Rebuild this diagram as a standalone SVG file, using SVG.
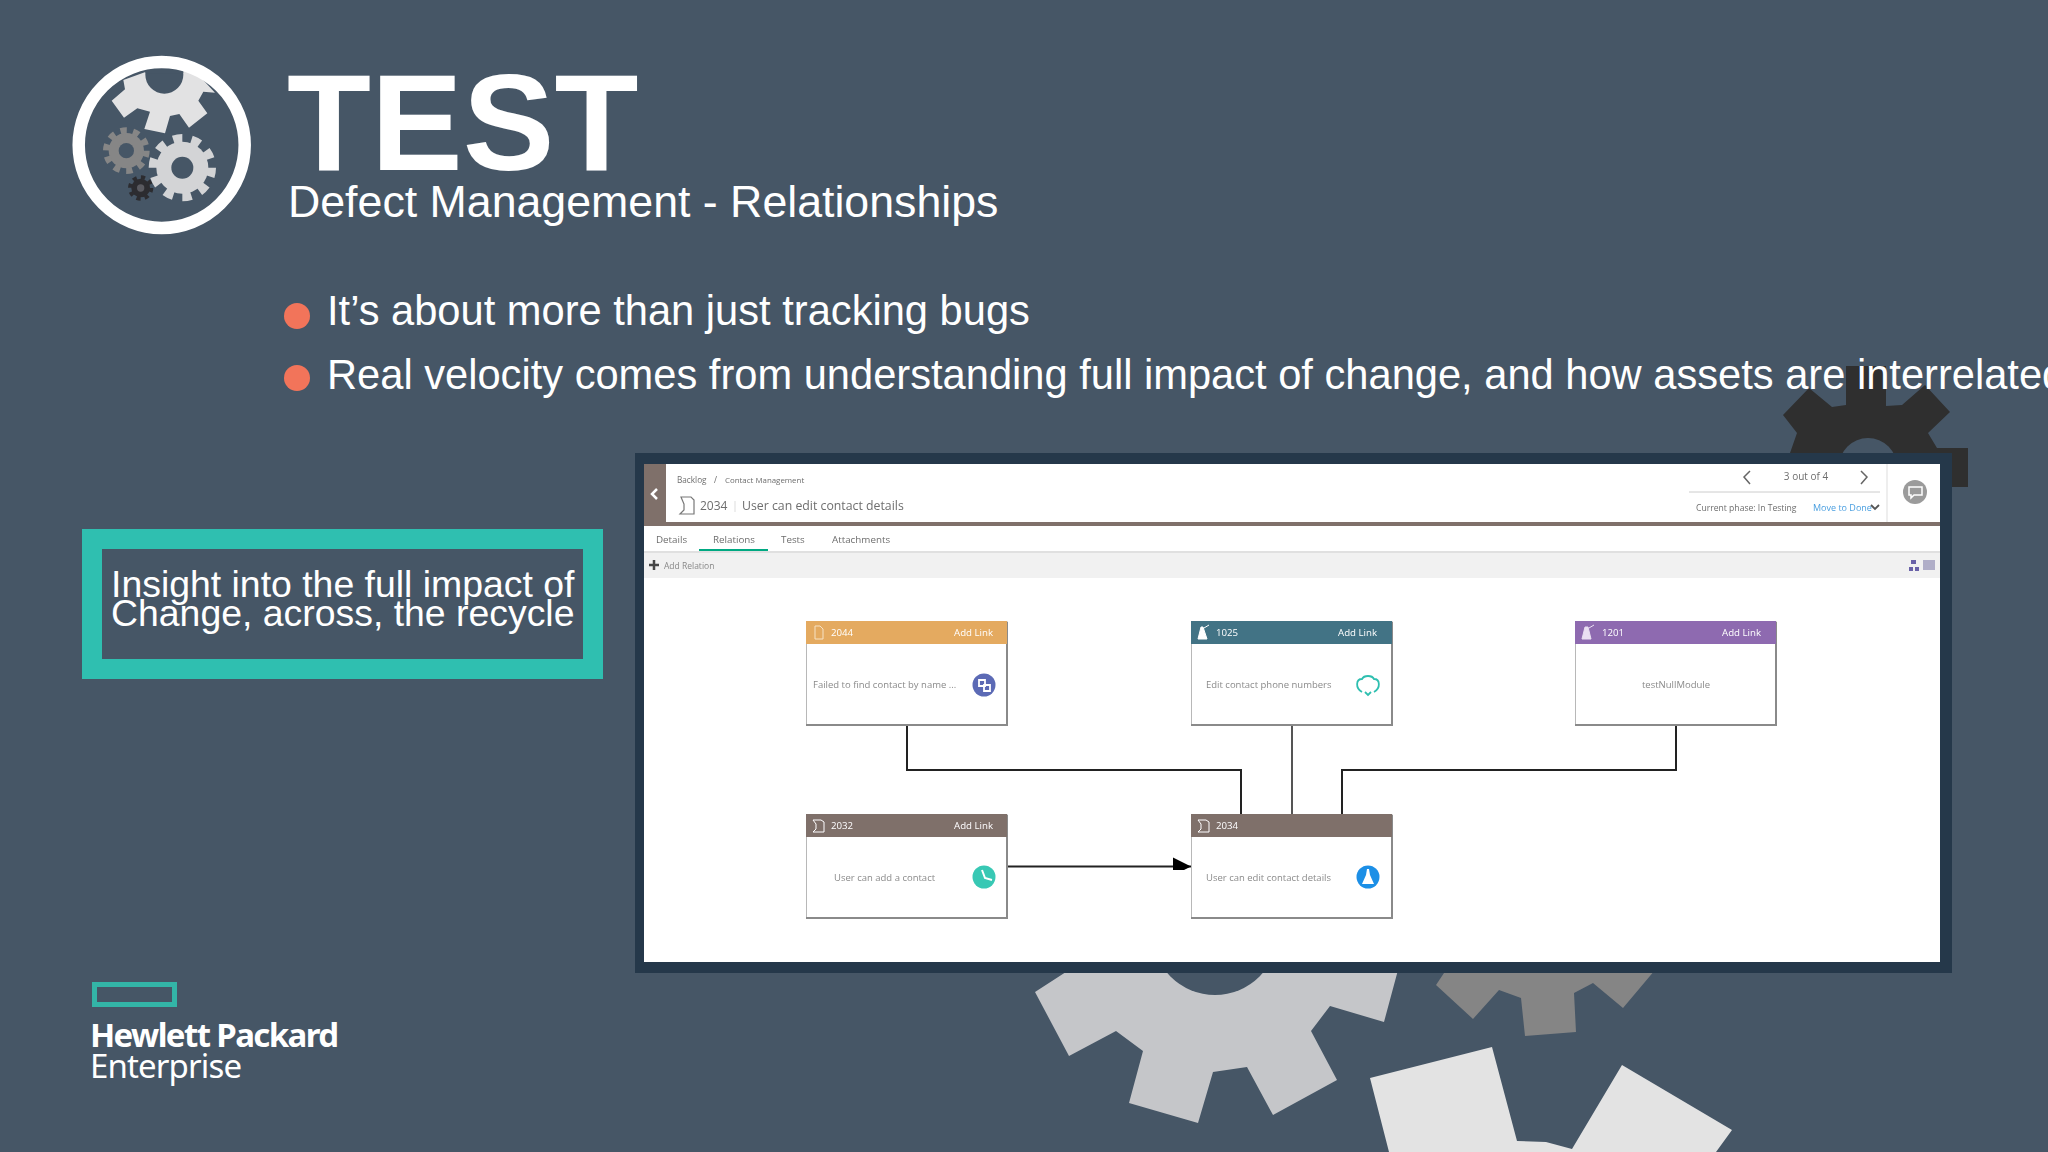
<svg xmlns="http://www.w3.org/2000/svg" width="2048" height="1152" viewBox="0 0 2048 1152">
<defs>
<filter id="soft" x="-2%" y="-2%" width="104%" height="104%"><feGaussianBlur stdDeviation="0.45"/></filter>
<marker id="arrow" markerUnits="userSpaceOnUse" markerWidth="18" markerHeight="20" refX="18" refY="10" orient="auto" overflow="visible"><path d="M0 1L18 10L0 19Z" fill="#000"/></marker>
</defs>
<style>
text{font-family:"Liberation Sans",Arial,sans-serif}
.w{fill:#fff}
.ui{font-family:"Open Sans","Liberation Sans",sans-serif;fill:#6e6e6e}
.card{fill:#fff;stroke:#b8b8b8;stroke-width:1}
.edge{fill:none;stroke:#8a8a8a;stroke-width:2}
.hd{font-family:"Open Sans","Liberation Sans",sans-serif;font-size:9.7px;fill:#fff}
.desc{font-family:"Open Sans","Liberation Sans",sans-serif;font-size:9.5px;fill:#8a8a8a}
.conn{fill:none;stroke:#222;stroke-width:2}
</style>
<rect width="2048" height="1152" fill="#465666"/>

<g id="bg-gears">
<path fill="#2f2f2f" d="M1846 366H1886V406L1902 405L1925 385L1950 412L1928 433L1937 448H1968V487H1940V500H1790V453L1797 433L1783 415L1809 388L1832 407L1846 405Z"/>
<circle cx="1868" cy="467" r="29" fill="#465666"/>
<path fill="#c5c6c9" d="M1069 970L1035 992L1069 1056L1116 1031L1143 1051L1129 1103L1198 1123L1213 1072L1247 1067L1273 1115L1337 1080L1311 1031L1330 1006L1384 1022L1398 970Z"/>
<circle cx="1215" cy="932" r="63" fill="#465666"/>
<path fill="#858585" d="M1446 970L1436 985L1473 1019L1499 990L1521 998L1525 1036L1576 1032L1574 993L1593 983L1623 1008L1655 970Z"/>
<path fill="#e3e3e3" d="M1370 1078L1492 1047L1517 1141L1546 1142L1572 1149L1622 1065L1732 1130L1716 1152H1389Z"/>
</g>

<g id="logo-gears">
<g transform="translate(50,30) scale(.33333)">
<path fill="#e2e2e3" d="M220 150L330 110L430 118L495 188L460 185L445 212L472 250L417 293L388 252L360 258L345 310L283 297L300 245L262 235L222 263L185 212L225 178Z"/>
<circle cx="343" cy="134" r="57" fill="#465666"/>
<path fill="#465666" d="M286 100H400V130H286Z"/>
<circle cx="229" cy="362" r="53" fill="#868686"/>
<circle cx="229" cy="362" r="60" fill="none" stroke="#868686" stroke-width="20" pathLength="20" stroke-dasharray="1 1"/>
<circle cx="229" cy="362" r="23" fill="#465666"/>
<circle cx="272" cy="474" r="28" fill="#2c2c30"/>
<circle cx="272" cy="474" r="32" fill="none" stroke="#2c2c30" stroke-width="12" pathLength="16" stroke-dasharray="1 1"/>
<circle cx="272" cy="474" r="11" fill="#5a5a60"/>
<circle cx="397" cy="413" r="78" fill="#d3d4d6"/>
<circle cx="397" cy="413" r="88" fill="none" stroke="#d3d4d6" stroke-width="26" pathLength="20" stroke-dasharray="1 1"/>
<circle cx="397" cy="413" r="33" fill="#465666"/>
</g>
<circle cx="161.7" cy="145" r="83" fill="none" stroke="#fff" stroke-width="12.5"/>
</g>

<g id="title">
<text class="w" x="287" y="170" font-size="137.500" font-weight="700">TEST</text>
<text class="w" x="288" y="217" font-size="44.700">Defect Management - Relationships</text>
</g>

<g id="bullets">
<circle cx="297" cy="316" r="13" fill="#f2745a"/>
<circle cx="297" cy="378" r="13" fill="#f2745a"/>
<text class="w" x="327" y="325" font-size="41.650">It’s about more than just tracking bugs</text>
<text class="w" x="327" y="389" font-size="41.650">Real velocity comes from understanding full impact of change, and how assets are interrelated</text>
</g>

<g id="callout">
<rect x="92" y="539" width="501" height="130" fill="#465666" stroke="#2fbfb0" stroke-width="20"/>
<text class="w" x="111" y="597" font-size="37.400">Insight into the full impact of</text>
<text class="w" x="111" y="626" font-size="37.400">Change, across, the recycle</text>
</g>

<g id="hpe-logo">
<rect x="94.500" y="984.500" width="80" height="20" fill="none" stroke="#33b5a7" stroke-width="5"/>
<text x="90" y="1047" font-size="33" font-weight="700" fill="#fff" style="font-family:'Noto Sans','Open Sans',sans-serif" textLength="249">Hewlett Packard</text>
<text x="90" y="1078" font-size="33" fill="#fff" style="font-family:'Noto Sans','Open Sans',sans-serif" textLength="152">Enterprise</text>
</g>

<g id="screen">
<rect x="635" y="453" width="1317" height="520" fill="#25384a"/>
<rect x="644" y="464" width="1296" height="498" fill="#fff"/>
<g filter="url(#soft)">
<rect x="644" y="464" width="22" height="58" fill="#7f6f6b"/>
<path d="M657 489L652 494L657 499" fill="none" stroke="#fff" stroke-width="2.500"/>
<rect x="644" y="522" width="1296" height="4" fill="#7f6f6b"/>
<text class="ui" x="677" y="483" font-size="8.200">Backlog</text>
<text class="ui" x="714" y="483" font-size="8.200">/</text>
<text class="ui" x="725" y="483" font-size="7.900">Contact Management</text>
<path d="M681 497H691L694 500V514H680L684 510V504Z" fill="none" stroke="#777" stroke-width="1.200"/>
<text class="ui" x="700" y="510" font-size="12">2034</text>
<path d="M735 501V512" stroke="#ddd" stroke-width="1"/>
<text class="ui" x="742" y="510" font-size="12.300">User can edit contact details</text>
<path d="M1750 471L1744 477L1750 484M1861 471L1867 477L1861 484" fill="none" stroke="#666" stroke-width="1.500"/>
<text class="ui" x="1806" y="480" font-size="10" text-anchor="middle">3 out of 4</text>
<path d="M1689 492H1880" stroke="#ccc" stroke-width="1"/>
<text class="ui" x="1696" y="511" font-size="8.600">Current phase: In Testing</text>
<text x="1813" y="511" font-size="9" fill="#4a9fe0" style="font-family:'Open Sans',sans-serif">Move to Done</text>
<path d="M1871 505L1875 509L1879 505" fill="none" stroke="#555" stroke-width="1.800"/>
<path d="M1887 464V522" stroke="#ddd" stroke-width="1"/>
<circle cx="1915" cy="492" r="12" fill="#9b9b9b"/>
<path d="M1909 487H1922V495H1914L1911 498V495H1909Z" fill="none" stroke="#fff" stroke-width="1.500"/>
<text class="ui" x="656" y="543" font-size="9.800">Details</text>
<text class="ui" x="713" y="543" font-size="9.800">Relations</text>
<text class="ui" x="781" y="543" font-size="9.800">Tests</text>
<text class="ui" x="832" y="543" font-size="9.800">Attachments</text>
<rect x="699" y="549" width="69" height="3" fill="#01a982"/>
<rect x="644" y="551" width="1296" height="2" fill="#e0e0e0"/>
<rect x="644" y="553" width="1296" height="25" fill="#f1f1f1"/>
<path d="M654 560V570M649 565H659" stroke="#444" stroke-width="2.500"/>
<text x="664" y="569" font-size="8.500" fill="#888" style="font-family:'Open Sans',sans-serif">Add Relation</text>
<path d="M1911 560H1916V564H1911ZM1909 567H1913V571H1909ZM1915 567H1919V571H1915Z" fill="#6a62a8"/>
<rect x="1923" y="560" width="12" height="10" fill="#b0aec8"/>
</g>
</g>

<g id="connectors" filter="url(#soft)">
<path class="conn" d="M907 726V770H1241V814"/>
<path class="conn" style="stroke:#555" d="M1292 726V814"/>
<path class="conn" d="M1676 726V770H1342V814"/>
<path class="conn" d="M1008 866.500H1191" marker-end="url(#arrow)"/>
</g>

<g id="node-2044" filter="url(#soft)">
<rect class="card" x="806.500" y="621.500" width="200.500" height="103"/>
<path class="edge" d="M1007 622V725H806"/>
<rect x="806" y="621" width="201" height="23" fill="#e4aa60"/>
<path d="M815 626H820L823 629V639H815Z" fill="none" stroke="#f6e2c4" stroke-width="1"/>
<text class="hd" x="831" y="636">2044</text>
<text class="hd" x="954" y="636">Add Link</text>
<text class="desc" x="813" y="688">Failed to find contact by name ...</text>
<circle cx="984" cy="685" r="11.500" fill="#5b6bb5"/>
<path d="M979 680H985V686H979ZM984 685H990V691H984Z" fill="none" stroke="#fff" stroke-width="1.800"/>
</g>

<g id="node-1025" filter="url(#soft)">
<rect class="card" x="1191.500" y="621.500" width="200.500" height="103"/>
<path class="edge" d="M1392 622V725H1191"/>
<rect x="1191" y="621" width="201" height="23" fill="#427385"/>
<path d="M1198 639L1201 627H1203L1207 639ZM1204 628L1209 625" fill="#fff" stroke="#fff" stroke-width="1"/>
<text class="hd" x="1216" y="636">1025</text>
<text class="hd" x="1338" y="636">Add Link</text>
<text class="desc" x="1206" y="688">Edit contact phone numbers</text>
<path d="M1362 692C1355 688 1356 679 1362 679C1364 675 1372 675 1374 679C1380 679 1381 688 1374 692M1365 692L1368 695L1371 692" fill="none" stroke="#2fbfb0" stroke-width="1.800"/>
</g>

<g id="node-1201" filter="url(#soft)">
<rect class="card" x="1575.500" y="621.500" width="200.500" height="103"/>
<path class="edge" d="M1776 622V725H1575"/>
<rect x="1575" y="621" width="201" height="23" fill="#8e6bb0"/>
<path d="M1582 639L1585 627H1588L1591 639ZM1589 628L1594 625" fill="#eadff2" stroke="#eadff2" stroke-width="1"/>
<text class="hd" x="1602" y="636">1201</text>
<text class="hd" x="1722" y="636">Add Link</text>
<text class="desc" x="1676" y="688" text-anchor="middle">testNullModule</text>
</g>

<g id="node-2032" filter="url(#soft)">
<rect class="card" x="806.500" y="814.500" width="200.500" height="103"/>
<path class="edge" d="M1007 815V918H806"/>
<rect x="806" y="814" width="201" height="23" fill="#7f6f6b"/>
<path d="M813 820H821L824 822V832H813L816 829V824Z" fill="none" stroke="#fff" stroke-width="1"/>
<text class="hd" x="831" y="829">2032</text>
<text class="hd" x="954" y="829">Add Link</text>
<text class="desc" x="834" y="881">User can add a contact</text>
<circle cx="984" cy="877" r="11.500" fill="#38c8b4"/>
<path d="M982 870L985 878L992 880" fill="none" stroke="#fff" stroke-width="2"/>
</g>

<g id="node-2034" filter="url(#soft)">
<rect class="card" x="1191.500" y="814.500" width="200.500" height="103"/>
<path class="edge" d="M1392 815V918H1191"/>
<rect x="1191" y="814" width="201" height="23" fill="#7f6f6b"/>
<path d="M1198 820H1206L1209 822V832H1198L1201 829V824Z" fill="none" stroke="#fff" stroke-width="1"/>
<text class="hd" x="1216" y="829">2034</text>
<text class="desc" x="1206" y="881">User can edit contact details</text>
<circle cx="1368" cy="877" r="11.500" fill="#1f8fe6"/>
<path d="M1367 869H1369L1370 875L1374 884H1362L1366 875Z" fill="#fff"/>
</g>
</svg>
